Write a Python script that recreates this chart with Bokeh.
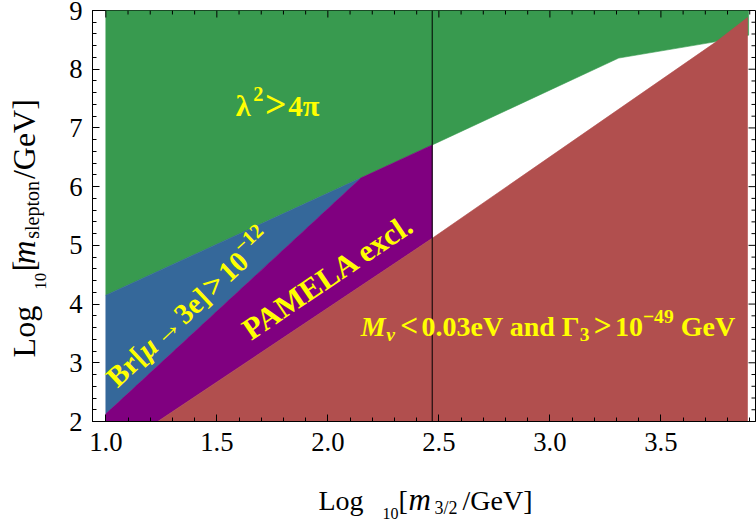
import math
from bokeh.plotting import figure
from bokeh.layouts import row, column
from bokeh.models import Label, SingleIntervalTicker, PrintfTickFormatter, Span, Range1d
from bokeh.embed import file_html
from bokeh.resources import INLINE

# ---------------- data (log10 m3/2 [GeV], log10 m_slepton [GeV]) ----------------
x_range_vals = [0.94, 3.926]
y_range_vals = [2.0, 9.0]
x_major_ticks = [1.0, 1.5, 2.0, 2.5, 3.0, 3.5]
y_major_ticks = [2, 3, 4, 5, 6, 7, 8, 9]
# lower boundary of the lambda^2 > 4 pi region
pert_x = [1.0, 2.15, 2.47, 3.31, 3.75, 3.895]
pert_y = [4.15, 6.15, 6.71, 8.19, 8.47, 8.58]
# Br[mu -> 3e] > 1e-12 boundary
mueg_x = [1.0, 2.15]
mueg_y = [2.13, 6.15]
# M_nu < 0.03 eV and Gamma_3 > 1e-49 GeV boundary
nu_x = [1.234, 2.47, 3.75, 3.89]
nu_y = [2.0, 5.12, 8.47, 8.88]
# PAMELA exclusion edge
pamela_x = 2.47

region_colors = ["#389A4F", "#35689A", "#800080", "#B14F4E"]
label_color = "#FFFF00"
SERIF = "Liberation Serif"
BASE_FIX = 0.26   # anchor-to-baseline correction, in em

# ---------------- layout geometry (page pixels) ----------------
YL_W = 48
MAIN_W, MAIN_H = 708, 468
XL_H = 55
ML, MR, MT, MB = 44, 1, 10, 47


def bare(f):
    f.xgrid.visible = False
    f.ygrid.visible = False
    f.background_fill_color = "white"
    f.border_fill_color = "white"
    return f


p = bare(figure(width=MAIN_W, height=MAIN_H, x_range=tuple(x_range_vals), y_range=tuple(y_range_vals),
                output_backend="svg", toolbar_location=None, title=None,
                min_border_left=ML, min_border_right=MR, min_border_top=MT, min_border_bottom=MB))
p.outline_line_color = "black"

FL, FT = YL_W + ML, MT
FR, FB = YL_W + MAIN_W - MR, MAIN_H - MB
X0, X1 = x_range_vals
Y0, Y1 = y_range_vals
SX = (FR - FL) / (X1 - X0)
SY = (FB - FT) / (Y1 - Y0)


def main_px(x, y):
    return FL + (x - X0) * SX, FT + (Y1 - y) * SY


def main_data(px, py):
    return X0 + (px - FL) / SX, Y1 - (py - FT) / SY


# reference-picture pixel -> data
def rx(px):
    return 1.0 + (px - 105) / 222.0


def ry(py):
    return 9.0 - (py - 8) / 59.0


# ---------------- regions ----------------
green_x = pert_x + [pert_x[-1], 1.0]
green_y = pert_y + [Y1, Y1]
blue_x = [mueg_x[0], mueg_x[1], pert_x[0]]
blue_y = [mueg_y[0], mueg_y[1], pert_y[0]]
purple_x = [1.0] + nu_x[:2] + [pamela_x, pert_x[1], mueg_x[0]]
purple_y = [Y0] + nu_y[:2] + [pert_y[2], pert_y[1], mueg_y[0]]
red_x = nu_x + [nu_x[-1]]
red_y = nu_y + [Y0]

p.patches(xs=[green_x, blue_x, purple_x, red_x], ys=[green_y, blue_y, purple_y, red_y],
          fill_color=region_colors, line_color=region_colors, line_width=0.6)
p.add_layout(Span(location=pamela_x, dimension="height", line_color="black", line_width=1))

# ---------------- axes ----------------
for ax, tk, fmt, so in ((p.xaxis[0], SingleIntervalTicker(interval=0.5, num_minor_ticks=5), "%.1f", 11),
                        (p.yaxis[0], SingleIntervalTicker(interval=1, num_minor_ticks=5), "%d", 10)):
    ax.ticker = tk
    ax.formatter = PrintfTickFormatter(format=fmt)
    ax.axis_line_color = "black"
    ax.major_tick_line_color = "black"
    ax.minor_tick_line_color = "black"
    ax.major_tick_in = 7
    ax.major_tick_out = 0
    ax.minor_tick_in = 4
    ax.minor_tick_out = 0
    ax.major_label_text_font = SERIF
    ax.major_label_text_font_size = "20pt"
    ax.major_label_text_color = "black"
    ax.major_label_standoff = so

# mirrored frame ticks on top and right
x_minor_ticks = [round(x_major_ticks[0] + 0.1 * i, 2) for i in range(30) if i % 5]
y_minor_ticks = [round(y_major_ticks[0] + 0.2 * i, 2) for i in range(35) if i % 5]
p.segment(x0=x_major_ticks, y0=[Y1] * len(x_major_ticks), x1=x_major_ticks,
          y1=[Y1 - 7 / SY] * len(x_major_ticks), line_color="black", line_width=1)
p.segment(x0=x_minor_ticks, y0=[Y1] * len(x_minor_ticks), x1=x_minor_ticks,
          y1=[Y1 - 4 / SY] * len(x_minor_ticks), line_color="black", line_width=1)
p.segment(x0=[X1] * len(y_major_ticks), y0=y_major_ticks, x1=[X1 - 7 / SX] * len(y_major_ticks),
          y1=y_major_ticks, line_color="black", line_width=1)
p.segment(x0=[X1] * len(y_minor_ticks), y0=y_minor_ticks, x1=[X1 - 4 / SX] * len(y_minor_ticks),
          y1=y_minor_ticks, line_color="black", line_width=1)

# ---------------- rich text helpers ----------------
WID = {
    'B': .667, 'r': .444, '[': .333, ']': .333, 'μ': .576, '→': 1.0, '3': .5, 'e': .444,
    '>': .570, '<': .570, '1': .5, '0': .5, '−': .570, '2': .5, 'P': .611, 'A': .722,
    'M': .889, 'E': .667, 'L': .611, ' ': .25, 'x': .5, 'c': .444, 'l': .278, '.': .25,
    'a': .5, 'n': .556, 'd': .556, 'Γ': .62, 'G': .778, 'V': .722, '4': .5, '9': .5,
    'λ': .55, 'π': .55, 'ν': .5, 'o': .5, 'g': .5, 'm': .722, 's': .389, 'p': .5,
    't': .278, '/': .278,
}


def text_width(t):
    return sum(WID.get(c, .5) for c in t)


def put(fig, to_data, text, px, py, a, fs, style, color, font=SERIF):
    # px, py: wanted baseline start in page pixels
    nx, ny = -math.sin(a), -math.cos(a)
    px += nx * BASE_FIX * fs
    py += ny * BASE_FIX * fs
    dx_, dy_ = to_data(px, py)
    fig.add_layout(Label(x=dx_, y=dy_, text=text, angle=a, text_font=font,
                         text_font_style=style, text_font_size=f"{fs:.2f}px",
                         text_color=color, text_align="left", text_baseline="alphabetic"))


def add_rich(fig, to_data, pieces, sx, sy, angle_deg, size, color):
    a = math.radians(angle_deg)
    ux, uy = math.cos(a), -math.sin(a)
    nx, ny = -math.sin(a), -math.cos(a)
    adv = 0.0
    for text, scale, style, rise, gap in pieces:
        adv += gap * size
        fs = size * scale
        px = sx + ux * adv + nx * rise * size
        py = sy + uy * adv + ny * rise * size
        put(fig, to_data, text, px, py, a, fs, style, color)
        adv += text_width(text) * fs


# lambda^2 > 4 pi
sx, sy = main_px(rx(235), ry(112))
add_rich(p, main_data,
         [("λ", 1.05, "bold", 0, 0), ("2", .7, "bold", .5, .02), (">", 1.3, "bold", 0, .06),
          ("4", 1, "bold", 0, .06), ("π", 1.05, "bold", 0, 0)], sx, sy, 0, 29, label_color)

# M_nu < 0.03 eV and Gamma_3 > 10^-49 GeV
sx, sy = main_px(rx(360), ry(333))
add_rich(p, main_data,
         [("M", 1, "bold italic", 0, 0), ("ν", .7, "bold italic", -.2, .02),
          ("<", 1.12, "bold", 0, .15), ("0.03eV and Γ", 1, "bold", 0, .12),
          ("3", .7, "bold", -.22, 0), (">", 1.12, "bold", 0, .15), ("10", 1, "bold", 0, .12),
          ("−49", .7, "bold", .45, 0), ("GeV", 1, "bold", 0, .25)], sx, sy, 0, 28, label_color)

# Br[mu -> 3e] > 10^-12
sx, sy = main_px(rx(115), ry(386))
add_rich(p, main_data,
         [("Br[", 1, "bold", 0, 0), ("μ", 1, "bold italic", 0, 0), ("→", 1, "bold", 0, .08),
          ("3e]", 1, "bold", 0, .08), (">", 1.1, "bold", 0, .1), ("10", 1, "bold", 0, .1),
          ("−12", .7, "bold", .45, 0)], sx, sy, 43, 29, label_color)

# PAMELA excl.
sx, sy = main_px(rx(249), ry(338))
add_rich(p, main_data, [("PAMELA excl.", 1, "bold", 0, 0)], sx, sy, 34, 31, label_color)


# ---------------- axis-label strips ----------------
def strip(w, h):
    f = bare(figure(width=w, height=h, x_range=Range1d(0, w), y_range=Range1d(h, 0),
                    output_backend="svg", toolbar_location=None, title=None,
                    x_axis_type=None, y_axis_type=None, min_border=0))
    f.outline_line_color = None
    return f


ylab = strip(YL_W, MAIN_H)
xlab = strip(YL_W + MAIN_W, XL_H)


def ylab_data(px, py):
    return px, py


def xlab_data(px, py):
    return px, py - MAIN_H


# y-axis label pieces: (text, size px, style, baseline x, start y), reading upward
ylabel_pieces = [("Log", 32, "normal", 32, 395), ("10", 17, "normal", 44, 318),
                 ("[", 32, "normal", 32, 297), ("m", 33, "italic", 32, 289),
                 ("slepton", 20, "normal", 37, 260), ("/GeV]", 32, "normal", 32, 192)]
for t, fs, st, bx, by in ylabel_pieces:
    put(ylab, ylab_data, t, bx, by, math.pi / 2, fs, st, "black")

# x-axis label pieces: (text, size px, style, start x, baseline y)
xlabel_pieces = [("Log", 28, "normal", 318, 507), ("10", 16, "normal", 382, 517),
                 ("[", 28, "normal", 398, 507), ("m", 31, "italic", 408, 507),
                 ("3/2", 18, "normal", 434, 512), ("/GeV]", 28, "normal", 462, 507)]
for t, fs, st, bx, by in xlabel_pieces:
    put(xlab, xlab_data, t, bx, by, 0.0, fs, st, "black")

layout = column(row(ylab, p, spacing=0), xlab, spacing=0)
open("out.html", "w").write(file_html(layout, INLINE))
